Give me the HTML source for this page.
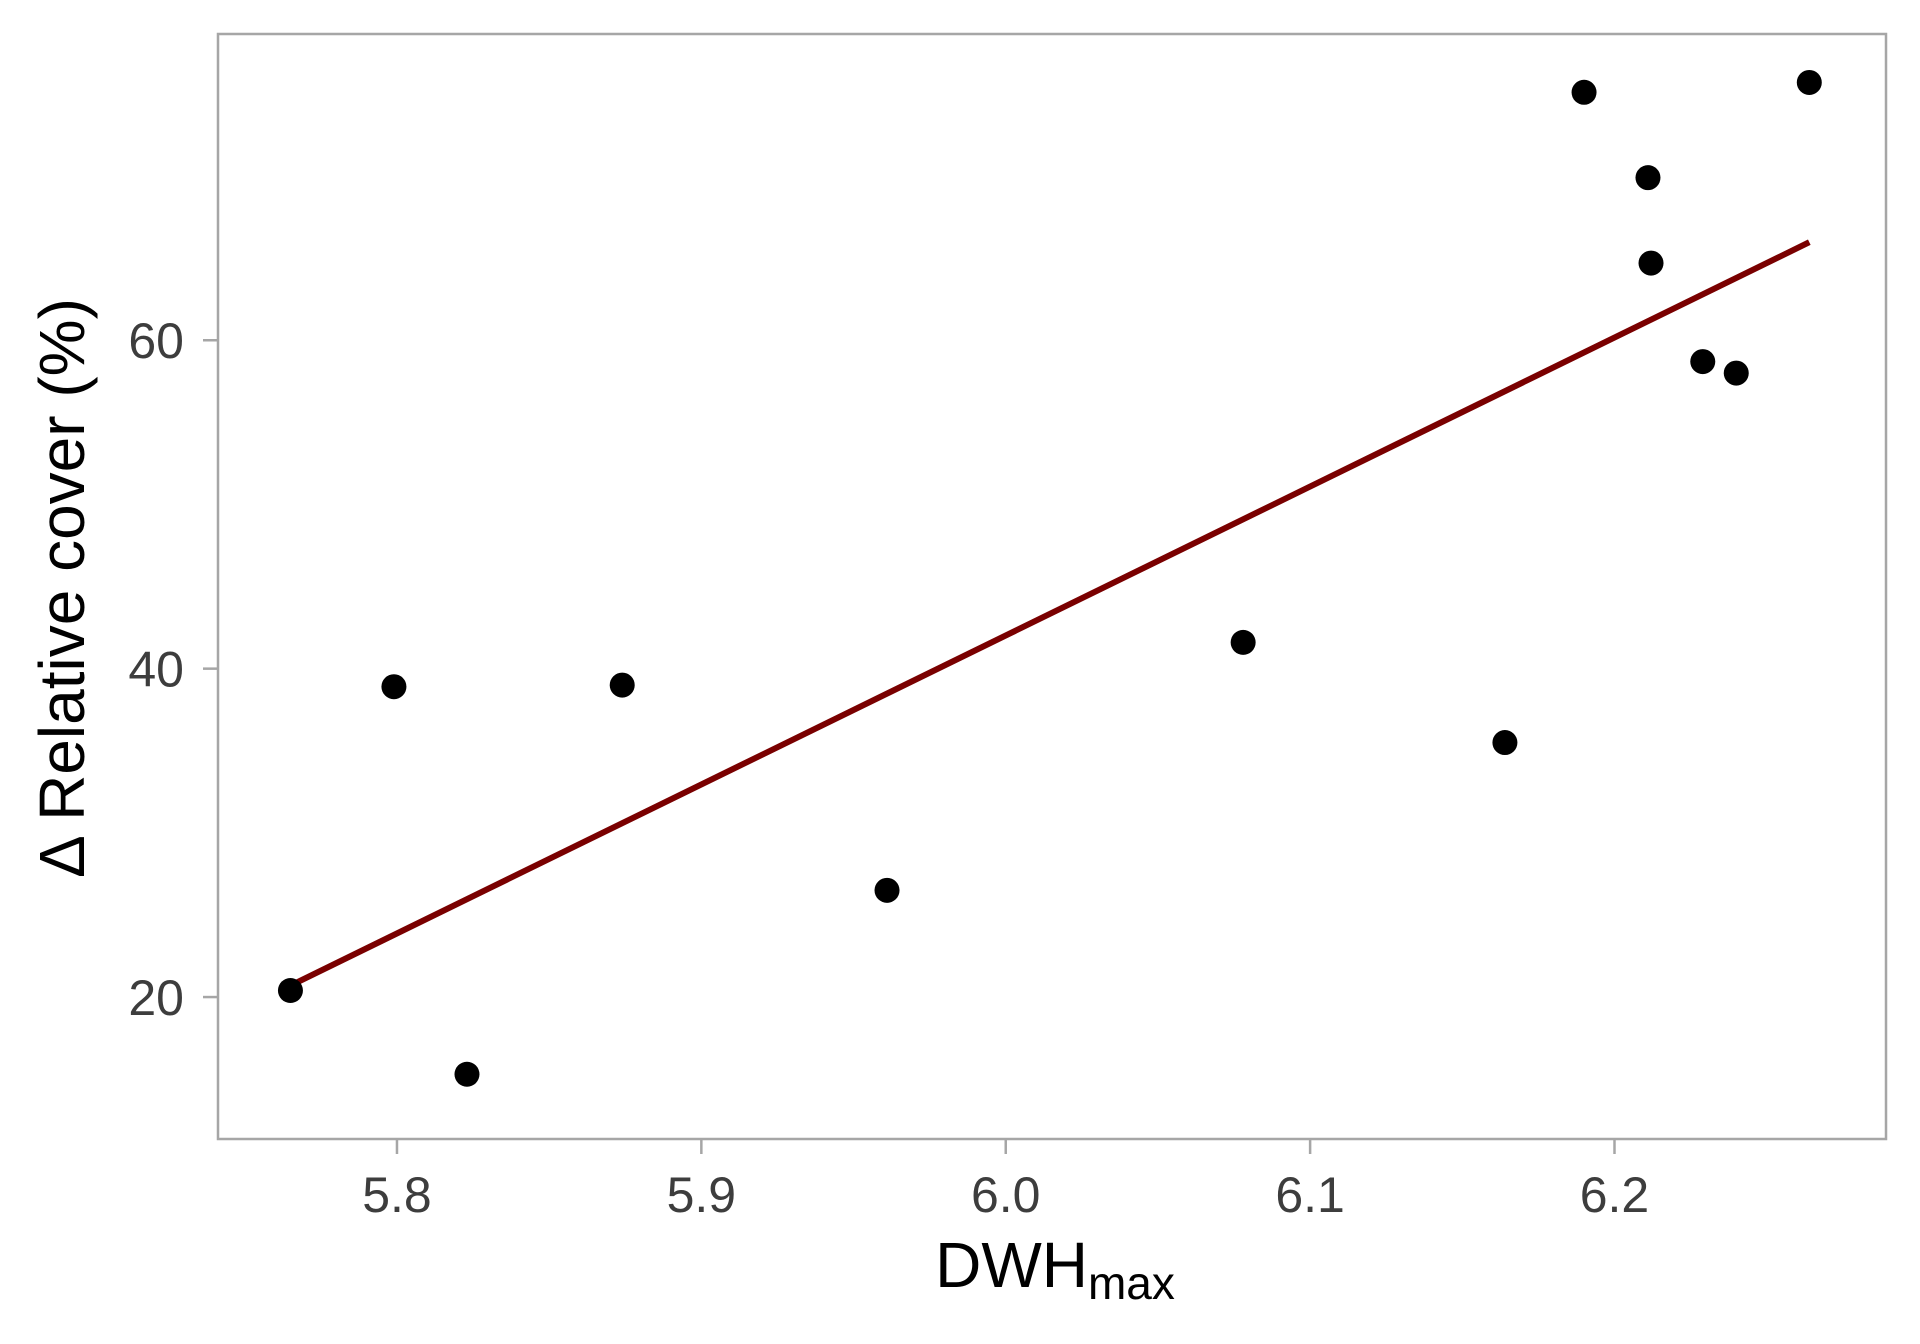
<!DOCTYPE html>
<html><head><meta charset="utf-8"><style>body{margin:0;background:#fff}svg{display:block}text{font-family:"Liberation Sans",sans-serif}</style></head>
<body>
<svg id="chart" width="1920" height="1344" xmlns="http://www.w3.org/2000/svg"></svg>
<script>
const xValues=[5.765,5.799,5.823,5.874,5.961,6.078,6.164,6.190,6.211,6.212,6.229,6.240,6.264];
const yValues=[20.4,38.9,15.3,39.0,26.5,41.6,35.5,75.1,69.9,64.7,58.7,58.0,75.7];
const fitX=[5.765,6.264];
const fitY=[20.7,65.97];
const xTicks=[5.8,5.9,6.0,6.1,6.2];
const xTickLabels=["5.8","5.9","6.0","6.1","6.2"];
const yTicks=[20,40,60];
const yTickLabels=["20","40","60"];
const L=218,R=1886,T=34,B=1139;
const xMin=5.7412,xMax=6.2892,yMin=11.356,yMax=78.65;
const sx=v=>L+(v-xMin)/(xMax-xMin)*(R-L);
const sy=v=>B-(v-yMin)/(yMax-yMin)*(B-T);
const svg=document.getElementById('chart');
const NS='http://www.w3.org/2000/svg';
function mk(tag,attrs,parent){const e=document.createElementNS(NS,tag);for(const k in attrs)e.setAttribute(k,attrs[k]);(parent||svg).appendChild(e);return e;}
const panel=mk('rect',{x:L,y:T,width:R-L,height:B-T,fill:'none',stroke:'#a6a6a6','stroke-width':2.5});


xTicks.forEach((t,i)=>{
  const x=sx(t);
  const tk=mk('line',{x1:x,x2:x,y1:B,y2:B+15,stroke:'#a6a6a6','stroke-width':2.5});
  
  
  const lb=mk('text',{x:x,y:1212,'text-anchor':'middle','font-size':50,fill:'#3d3d3d'});
  lb.textContent=xTickLabels[i];
  
  
});
yTicks.forEach((t,i)=>{
  const y=sy(t);
  const tk=mk('line',{x1:L-15,x2:L,y1:y,y2:y,stroke:'#a6a6a6','stroke-width':2.5});
  
  
  const lb=mk('text',{x:184,y:y+18,'text-anchor':'end','font-size':50,fill:'#3d3d3d'});
  lb.textContent=yTickLabels[i];
  
  
});
const fit=mk('line',{x1:sx(fitX[0]),y1:sy(fitY[0]),x2:sx(fitX[1]),y2:sy(fitY[1]),stroke:'#7a0000','stroke-width':6});


xValues.forEach((v,i)=>{
  const c=mk('circle',{cx:sx(v),cy:sy(yValues[i]),r:12.5,fill:'#000'});
  
  
});
const xt=mk('text',{x:1055,y:1287,'text-anchor':'middle','font-size':64,fill:'#000'});
xt.innerHTML='DWH<tspan font-size="46" dy="12">max</tspan>';


const yt=mk('text',{x:0,y:0,'text-anchor':'middle','font-size':64,fill:'#000',transform:'translate(84,588) rotate(-90)'});
yt.textContent='\u0394 Relative cover (%)';


</script>
</body></html>
